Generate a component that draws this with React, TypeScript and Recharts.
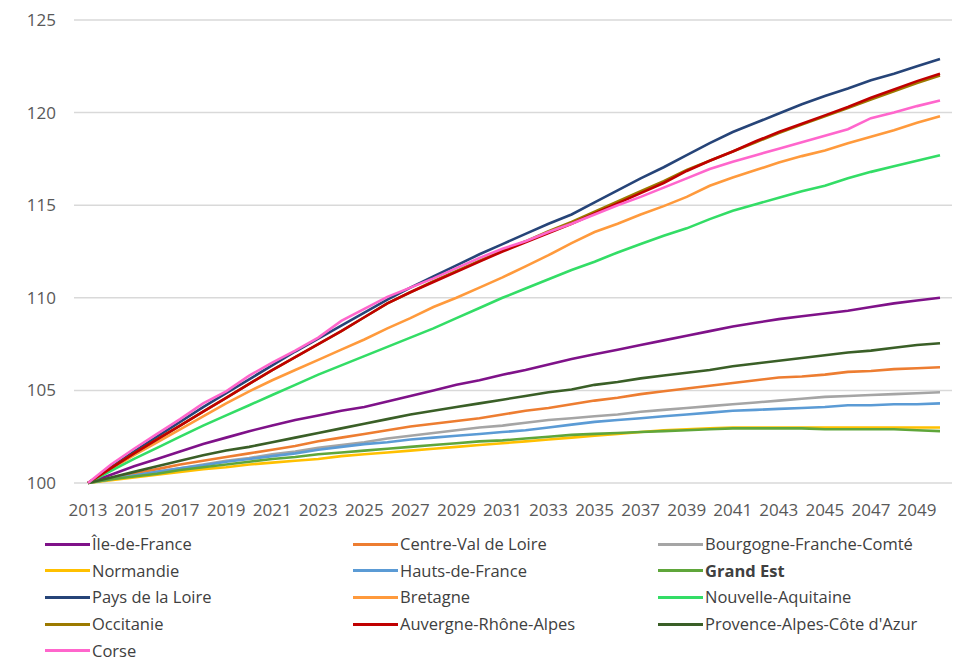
import React from "react";
import { LineChart, Line, XAxis, YAxis, CartesianGrid, Legend } from "recharts";

// Indice de population (base 100 en 2013), projections 2013-2050
const years = [
  2013, 2014, 2015, 2016, 2017, 2018, 2019, 2020, 2021, 2022, 2023, 2024, 2025,
  2026, 2027, 2028, 2029, 2030, 2031, 2032, 2033, 2034, 2035, 2036, 2037, 2038,
  2039, 2040, 2041, 2042, 2043, 2044, 2045, 2046, 2047, 2048, 2049, 2050,
];

const ileDeFrance = [
  100, 100.45, 100.9, 101.3, 101.7, 102.1, 102.45, 102.8, 103.1, 103.4, 103.65, 103.9, 104.1,
  104.4, 104.7, 105.0, 105.3, 105.55, 105.85, 106.1, 106.4, 106.7, 106.95, 107.2, 107.45, 107.7,
  107.95, 108.2, 108.45, 108.65, 108.85, 109.0, 109.15, 109.3, 109.5, 109.7, 109.85, 110.0,
];
const centreValDeLoire = [
  100, 100.25, 100.5, 100.75, 101.0, 101.2, 101.4, 101.6, 101.8, 102.0, 102.25, 102.45, 102.65,
  102.85, 103.05, 103.2, 103.35, 103.5, 103.7, 103.9, 104.05, 104.25, 104.45, 104.6, 104.8, 104.95,
  105.1, 105.25, 105.4, 105.55, 105.7, 105.75, 105.85, 106.0, 106.05, 106.15, 106.2, 106.25,
];
const bourgogne = [
  100, 100.2, 100.4, 100.6, 100.8, 101.0, 101.2, 101.35, 101.55, 101.7, 101.9, 102.05, 102.2,
  102.4, 102.55, 102.7, 102.85, 103.0, 103.1, 103.25, 103.4, 103.5, 103.6, 103.7, 103.85, 103.95,
  104.05, 104.15, 104.25, 104.35, 104.45, 104.55, 104.65, 104.7, 104.75, 104.8, 104.85, 104.9,
];
const normandie = [
  100, 100.15, 100.3, 100.45, 100.6, 100.75, 100.85, 101.0, 101.1, 101.2, 101.3, 101.45, 101.55,
  101.65, 101.75, 101.85, 101.95, 102.05, 102.15, 102.25, 102.35, 102.45, 102.55, 102.65, 102.75, 102.85,
  102.9, 102.95, 103.0, 103.0, 103.0, 103.0, 103.0, 103.0, 103.0, 103.0, 103.0, 103.0,
];
const hautsDeFrance = [
  100, 100.2, 100.4, 100.6, 100.8, 100.95, 101.15, 101.3, 101.45, 101.6, 101.8, 101.95, 102.1,
  102.2, 102.35, 102.45, 102.55, 102.65, 102.75, 102.85, 103.0, 103.15, 103.3, 103.4, 103.5, 103.6,
  103.7, 103.8, 103.9, 103.95, 104.0, 104.05, 104.1, 104.2, 104.2, 104.25, 104.25, 104.3,
];
const grandEst = [
  100, 100.2, 100.35, 100.5, 100.7, 100.85, 101.0, 101.15, 101.3, 101.4, 101.55, 101.65, 101.75,
  101.85, 101.95, 102.05, 102.15, 102.25, 102.3, 102.4, 102.5, 102.6, 102.65, 102.7, 102.75, 102.8,
  102.85, 102.9, 102.95, 102.95, 102.95, 102.95, 102.9, 102.9, 102.9, 102.9, 102.85, 102.8,
];
const paysDeLaLoire = [
  100, 100.85, 101.7, 102.5, 103.3, 104.1, 104.85, 105.6, 106.35, 107.1, 107.8, 108.5, 109.2,
  109.9, 110.55, 111.15, 111.75, 112.35, 112.9, 113.45, 114.0, 114.5, 115.15, 115.8, 116.45, 117.05,
  117.7, 118.35, 118.95, 119.45, 119.95, 120.45, 120.9, 121.3, 121.75, 122.1, 122.5, 122.9,
];
const bretagne = [
  100, 100.75, 101.5, 102.2, 102.9, 103.6, 104.3, 104.95, 105.55, 106.1, 106.65, 107.2, 107.75,
  108.35, 108.9, 109.5, 110.0, 110.55, 111.1, 111.7, 112.3, 112.95, 113.55, 114.0, 114.5, 114.95,
  115.45, 116.05, 116.5, 116.9, 117.3, 117.65, 117.95, 118.35, 118.7, 119.05, 119.45, 119.8,
];
const nouvelleAquitaine = [
  100, 100.65, 101.3, 101.9, 102.5, 103.1, 103.65, 104.2, 104.75, 105.3, 105.85, 106.35, 106.85,
  107.35, 107.85, 108.35, 108.9, 109.45, 110.0, 110.5, 111.0, 111.5, 111.95, 112.45, 112.9, 113.35,
  113.75, 114.25, 114.7, 115.05, 115.4, 115.75, 116.05, 116.45, 116.8, 117.1, 117.4, 117.7,
];
const occitanie = [
  100, 100.8, 101.6, 102.35, 103.1, 103.85, 104.6, 105.35, 106.1, 106.8, 107.5, 108.2, 108.95,
  109.7, 110.3, 110.9, 111.45, 112.0, 112.55, 113.05, 113.6, 114.1, 114.65, 115.2, 115.75, 116.3,
  116.9, 117.4, 117.9, 118.4, 118.9, 119.35, 119.8, 120.25, 120.7, 121.15, 121.6, 122.0,
];
const auvergne = [
  100, 100.8, 101.6, 102.35, 103.1, 103.85, 104.6, 105.35, 106.1, 106.8, 107.5, 108.2, 108.95,
  109.7, 110.3, 110.85, 111.4, 111.95, 112.5, 113.0, 113.5, 114.0, 114.55, 115.1, 115.65, 116.2,
  116.85, 117.4, 117.9, 118.45, 118.95, 119.4, 119.85, 120.3, 120.8, 121.25, 121.7, 122.1,
];
const paca = [
  100, 100.3, 100.6, 100.9, 101.2, 101.5, 101.75, 101.95, 102.2, 102.45, 102.7, 102.95, 103.2,
  103.45, 103.7, 103.9, 104.1, 104.3, 104.5, 104.7, 104.9, 105.05, 105.3, 105.45, 105.65, 105.8,
  105.95, 106.1, 106.3, 106.45, 106.6, 106.75, 106.9, 107.05, 107.15, 107.3, 107.45, 107.55,
];
const corse = [
  100, 101.0, 101.85, 102.65, 103.45, 104.3, 104.95, 105.8, 106.5, 107.15, 107.85, 108.75, 109.4,
  110.05, 110.55, 111.05, 111.6, 112.15, 112.65, 113.05, 113.55, 114.0, 114.5, 115.0, 115.45, 115.95,
  116.45, 116.95, 117.35, 117.7, 118.05, 118.4, 118.75, 119.1, 119.7, 120.0, 120.35, 120.65,
];

const yTicks = [100, 105, 110, 115, 120, 125];

// series in Excel drawing order (later ones on top)
const series = [
  { key: "idf", name: "Île-de-France", color: "#7f1289", values: ileDeFrance },
  { key: "cvl", name: "Centre-Val de Loire", color: "#ed7d31", values: centreValDeLoire },
  { key: "bfc", name: "Bourgogne-Franche-Comté", color: "#a5a5a5", values: bourgogne },
  { key: "nor", name: "Normandie", color: "#ffc000", values: normandie },
  { key: "hdf", name: "Hauts-de-France", color: "#5b9bd5", values: hautsDeFrance },
  { key: "ge", name: "Grand Est", color: "#5fa63a", values: grandEst, bold: true },
  { key: "pdl", name: "Pays de la Loire", color: "#264478", values: paysDeLaLoire },
  { key: "bre", name: "Bretagne", color: "#ff9a3c", values: bretagne },
  { key: "na", name: "Nouvelle-Aquitaine", color: "#33dd66", values: nouvelleAquitaine },
  { key: "occ", name: "Occitanie", color: "#9c7a00", values: occitanie },
  { key: "ara", name: "Auvergne-Rhône-Alpes", color: "#c00000", values: auvergne },
  { key: "paca", name: "Provence-Alpes-Côte d'Azur", color: "#3a5f27", values: paca },
  { key: "cor", name: "Corse", color: "#ff66cc", values: corse },
];

const data = years.map((year, i) => {
  const row: Record<string, number> = { year };
  series.forEach((s) => {
    row[s.key] = s.values[i];
  });
  return row;
});

const FONT = "'Open Sans', sans-serif";
const legendCols = [45, 353, 658];
const ROW_H = 26.6;

const renderLegend = () => (
  <div style={{ position: "relative", width: 954, height: 127, fontFamily: FONT }}>
    {series.map((s, i) => {
      const col = i % 3;
      const row = Math.floor(i / 3);
      return (
        <div
          key={s.key}
          style={{
            position: "absolute",
            left: legendCols[col],
            top: row * ROW_H - 2,
            height: ROW_H,
            display: "flex",
            alignItems: "center",
            whiteSpace: "nowrap",
          }}
        >
          <span
            style={{
              display: "inline-block",
              width: 45,
              height: 3,
              background: s.color,
              marginRight: 2,
            }}
          />
          <span
            style={{
              fontSize: 16.5,
              lineHeight: "20px",
              color: "#404040",
              fontWeight: s.bold ? 700 : 400,
            }}
          >
            {s.name}
          </span>
        </div>
      );
    })}
  </div>
);

export default function App() {
  return (
    <div
      style={{
        position: "absolute",
        left: 0,
        top: 0,
        width: 954,
        height: 660,
        background: "#ffffff",
      }}
    >
      <LineChart
        width={954}
        height={660}
        data={data}
        margin={{ top: 20, right: 2, bottom: 0, left: 0 }}
        style={{ fontFamily: FONT }}
      >
        <CartesianGrid vertical={false} stroke="#d9d9d9" strokeWidth={1.5} />
        <XAxis
          dataKey="year"
          interval={1}
          padding={{ left: 14, right: 12 }}
          height={50}
          axisLine={false}
          tickLine={false}
          tickMargin={15}
          tick={{ fontSize: 17, fill: "#595959" }}
        />
        <YAxis
          width={74}
          domain={[100, 125]}
          ticks={yTicks}
          axisLine={false}
          tickLine={false}
          tickMargin={12}
          tick={{ fontSize: 17, fill: "#595959" }}
        />
        <Legend
          verticalAlign="bottom"
          content={renderLegend}
          wrapperStyle={{ left: 0, width: 954, height: 127 }}
        />
        {series.map((s) => (
          <Line
            key={s.key}
            type="linear"
            dataKey={s.key}
            name={s.name}
            stroke={s.color}
            strokeWidth={2.6}
            dot={false}
            isAnimationActive={false}
          />
        ))}
      </LineChart>
    </div>
  );
}
